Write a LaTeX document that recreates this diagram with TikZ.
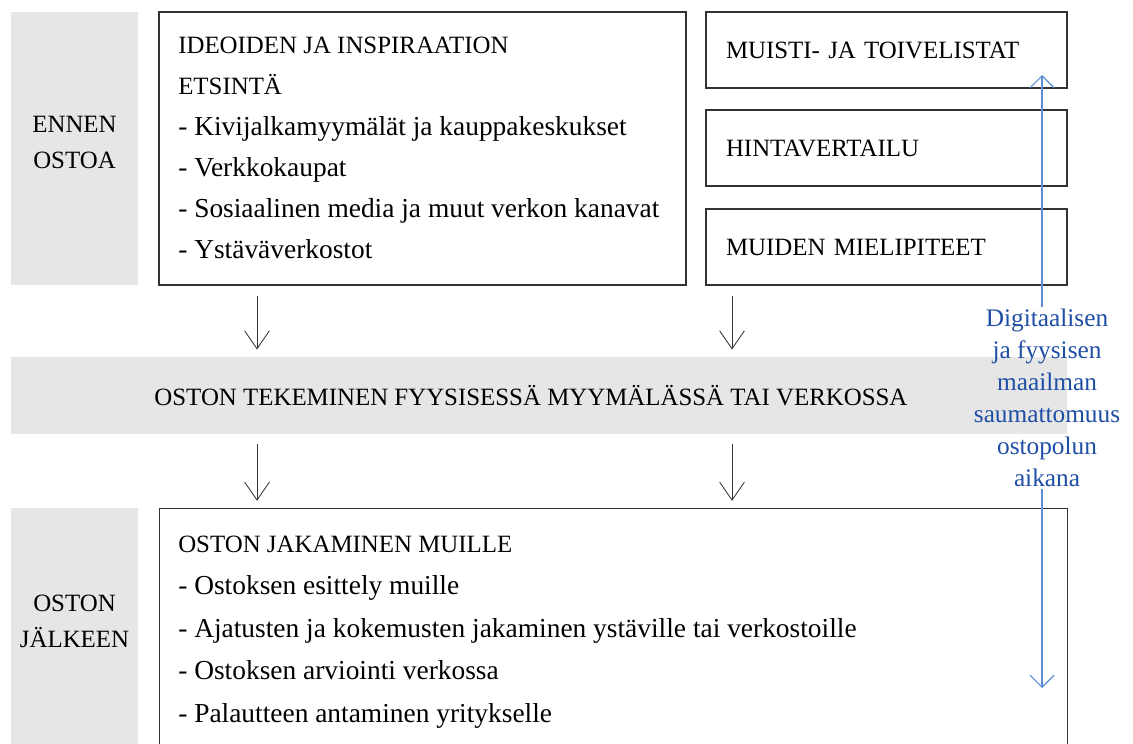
\documentclass[tikz,border=0pt]{standalone}
\usepackage{fontspec}
\setmainfont{Liberation Serif}
\usetikzlibrary{arrows.meta}
\definecolor{panelgray}{HTML}{E6E6E6}
\definecolor{edgegray}{HTML}{333333}
\definecolor{pathblue}{HTML}{5B8ED6}
\definecolor{labelblue}{HTML}{1F4EA5}
\newcommand{\capsfont}{\fontsize{17.7}{25.6}\selectfont}
\newcommand{\listfont}[1]{\fontsize{19.5}{#1}\selectfont}
\tikzset{
  phase/.style={fill=panelgray, minimum width=3.175cm, inner sep=0pt},
  phasetext/.style={align=center, font=\capsfont, inner sep=0pt},
  box/.style={draw=edgegray, line width=0.8pt, inner sep=0pt},
  boxtext/.style={anchor=base west, align=left, inner sep=0pt},
  tag/.style={box, minimum height=1.9cm, text width=8.025cm, inner xsep=0.5cm, align=left, font=\capsfont},
  flow/.style={draw=edgegray, line width=0.6pt, -{Straight Barb[length=0.45cm,width=0.62cm]}, shorten <=0.25cm, shorten >=0.18cm},
  journey/.style={draw=pathblue, line width=0.8pt, -{Straight Barb[length=0.3cm,width=0.6cm]}},
}
\begin{document}
\begin{tikzpicture}
\useasboundingbox (0,0) rectangle (28.325,-18.6);
\node[phase, minimum height=6.825cm] (before) at (1.8625,-3.7125) {};
\node[phasetext] (beforetext) at (1.8625,-3.55) {ENNEN\\OSTOA};
\node[box, minimum width=13.175cm, minimum height=6.825cm] (ideas) at (10.5625,-3.7125) {};
\node[boxtext, font=\listfont{29.3pt}] (ideastext) at (4.45,-6.475) {{\capsfont IDEOIDEN JA INSPIRAATION}\\{\capsfont ETSINTÄ}\\
  - Kivijalkamyymälät ja kauppakeskukset\\
  - Verkkokaupat\\
  - Sosiaalinen media ja muut verkon kanavat\\
  - Ystäväverkostot};
\node[tag] (wishlists) at (22.1625,-1.25) {MUISTI- JA TOIVELISTAT};
\node[tag] (prices) at (22.1625,-3.7) {HINTAVERTAILU};
\node[tag] (opinions) at (22.1625,-6.175) {MUIDEN MIELIPITEET};
\node[fill=panelgray, minimum width=26.4cm, minimum height=1.925cm, inner sep=0pt] (purchase) at (13.475,-9.8875) {};
\node[font=\capsfont, inner sep=0pt] (purchasetext) at (13.275,-9.8875) {OSTON TEKEMINEN FYYSISESSÄ MYYMÄLÄSSÄ TAI VERKOSSA};
\node[phase, minimum height=6.8cm, anchor=north west] (after) at (0.275,-12.7) {};
\node[phasetext] (aftertext) at (1.8625,-15.525) {OSTON\\JÄLKEEN};
\node[box, minimum width=22.7cm, minimum height=7cm, anchor=north west] (sharing) at (3.975,-12.7) {};
\node[boxtext, font=\listfont{30.2pt}] (sharingtext) at (4.45,-18.05) {{\capsfont OSTON JAKAMINEN MUILLE}\\
  - Ostoksen esittely muille\\
  - Ajatusten ja kokemusten jakaminen ystäville tai verkostoille\\
  - Ostoksen arviointi verkossa\\
  - Palautteen antaminen yritykselle};
\coordinate (left) at (6.425,0);
\coordinate (right) at (18.3,0);
\draw[flow] (ideas.south -| left) to (purchase.north -| left);
\draw[flow] (opinions.south -| right) to (purchase.north -| right);
\draw[flow] (purchase.south -| left) to (sharing.north -| left);
\draw[flow] (purchase.south -| right) to (sharing.north -| right);
\coordinate (top) at (26.05,-1.875);
\coordinate (bottom) at (26.05,-17.2);
\node[text=labelblue, align=center, font=\fontsize{18}{22.8}\selectfont, inner sep=1pt] (note) at (26.175,-9.95) {Digitaalisen\\ja fyysisen\\maailman\\saumattomuus\\ostopolun\\aikana};
\draw[journey] (note.north -| top) to (top);
\draw[journey] (note.south -| bottom) to (bottom);
\end{tikzpicture}
\end{document}
